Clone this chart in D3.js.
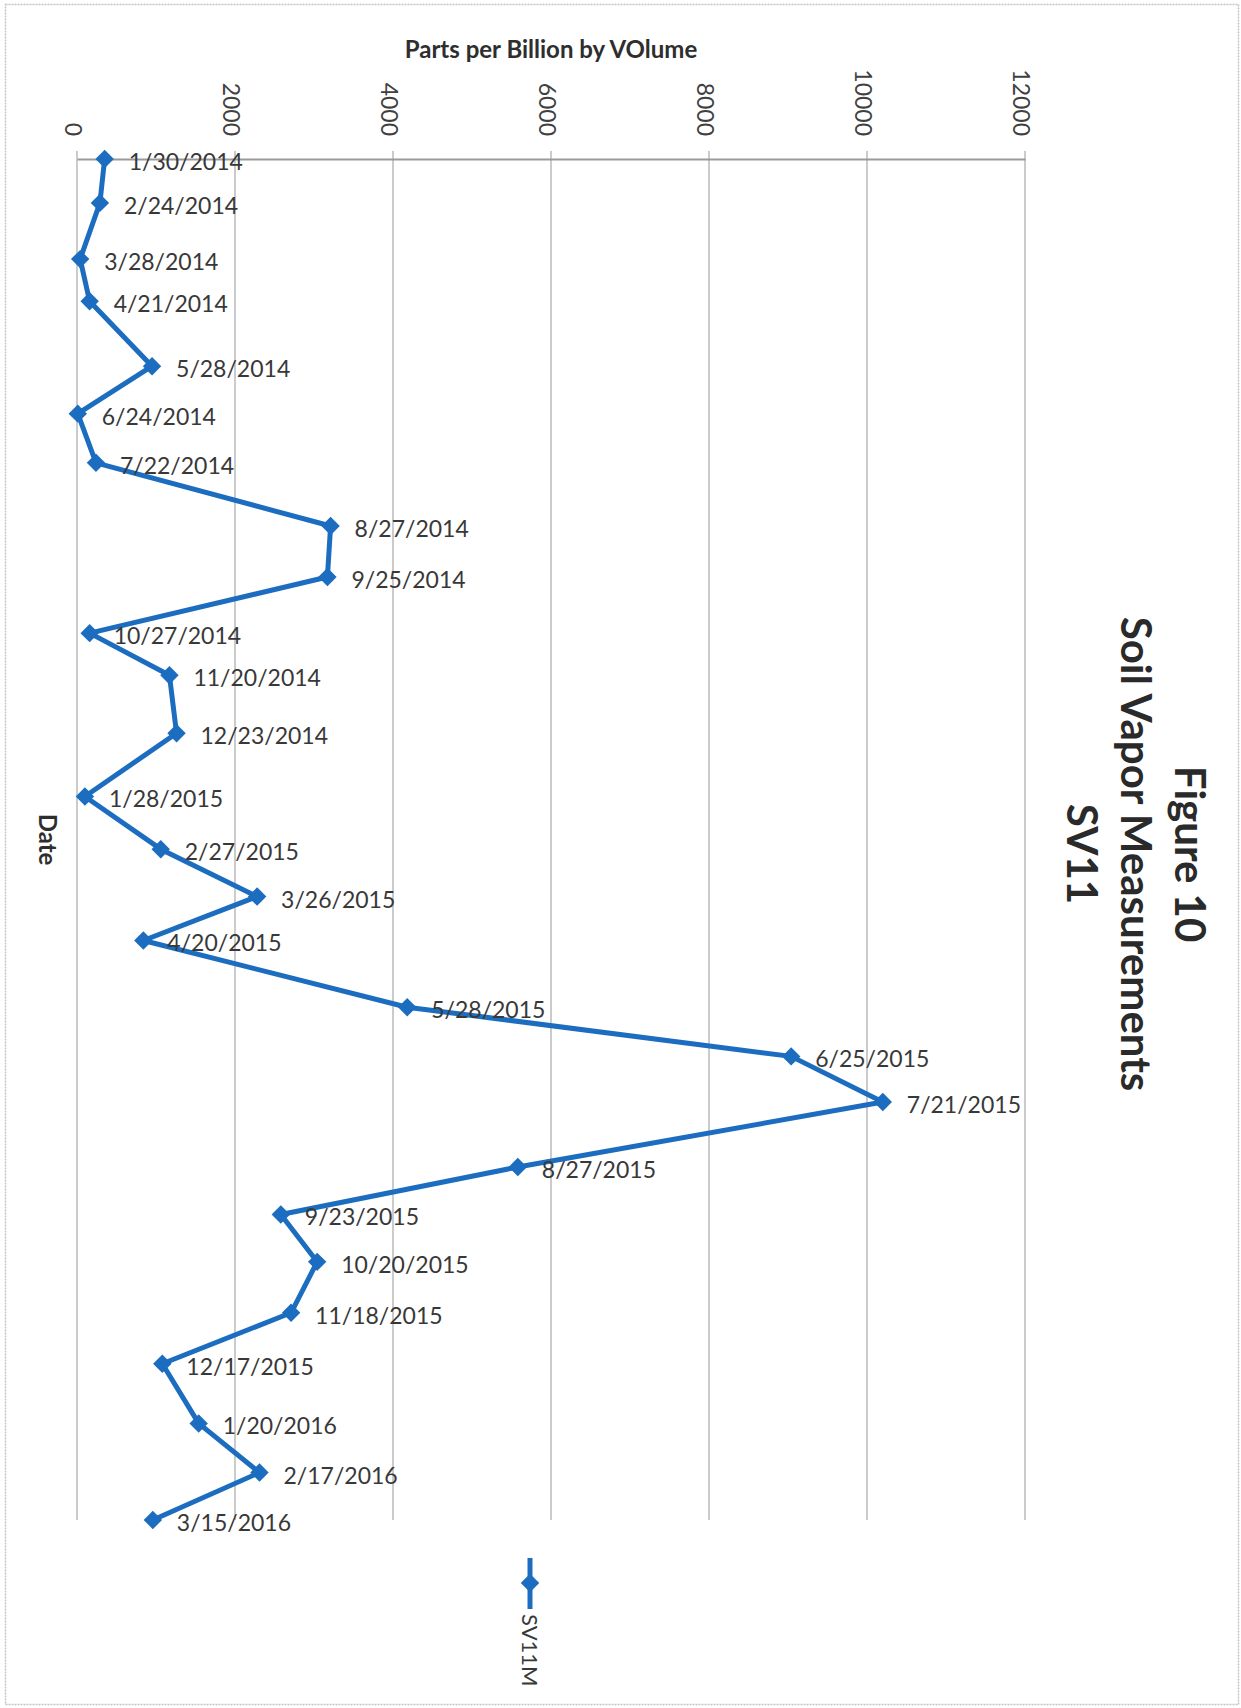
<!DOCTYPE html>
<html>
<head>
<meta charset="utf-8">
<script src="https://cdn.jsdelivr.net/npm/d3@7"></script>
<style>
  html, body { margin: 0; padding: 0; background: #fff; }
  svg { display: block; }
</style>
</head>
<body>
<svg id="chart" width="1241" height="1708"></svg>
<script>
// ---- data ----
const dates = ["1/30/2014","2/24/2014","3/28/2014","4/21/2014","5/28/2014","6/24/2014","7/22/2014","8/27/2014","9/25/2014","10/27/2014","11/20/2014","12/23/2014","1/28/2015","2/27/2015","3/26/2015","4/20/2015","5/28/2015","6/25/2015","7/21/2015","8/27/2015","9/23/2015","10/20/2015","11/18/2015","12/17/2015","1/20/2016","2/17/2016","3/15/2016"];
const sv11m = [350, 290, 40, 160, 950, 10, 240, 3210, 3170, 160, 1170, 1260, 100, 1060, 2280, 840, 4180, 9040, 10200, 5580, 2580, 3040, 2710, 1080, 1540, 2310, 960];
const valueTicks = [0, 2000, 4000, 6000, 8000, 10000, 12000];
const titleLines = ["Figure 10", "Soil Vapor Measurements", "SV11"];
const valueAxisTitle = "Parts per Billion by VOlume";
const dateAxisTitle = "Date";
const seriesName = "SV11M";

// ---- setup ----
const svg = d3.select("#chart");
const parse = d3.timeParse("%m/%d/%Y");
const data = dates.map((d, i) => ({ label: d, date: parse(d), value: sv11m[i] }));

const plot = { left: 77, right: 1025, top: 159, bottom: 1520 };
const x = d3.scaleLinear().domain([0, 12000]).range([plot.left, plot.right]);
const y = d3.scaleTime().domain([data[0].date, data[data.length - 1].date]).range([plot.top, plot.bottom]);

const blue = "#1c6dc0";
const textCol = "#383838";
const font = "Lato, 'Open Sans', sans-serif";

// outer border
svg.append("rect")
  .attr("x", 5.5).attr("y", 4.5).attr("width", 1233).attr("height", 1700)
  .attr("fill", "none").attr("stroke", "#c4c4c4").attr("stroke-width", 1.5)
  .attr("stroke-dasharray", "2,1");

// gridlines
svg.append("g").selectAll("line").data(valueTicks).join("line")
  .attr("x1", d => x(d)).attr("x2", d => x(d))
  .attr("y1", plot.top - 8).attr("y2", plot.bottom)
  .attr("stroke", "#a8a8a8").attr("stroke-width", 1.2);

// top axis line (value axis)
const axis = d3.axisTop(x).tickValues(valueTicks).tickSize(0).tickFormat(d3.format("d"));
const ag = svg.append("g").attr("transform", `translate(0,${plot.top})`).call(axis);
ag.select(".domain").attr("stroke", "#9a9a9a").attr("stroke-width", 2);
ag.selectAll(".tick text")
  .attr("fill", "#404040")
  .style("font-family", font)
  .style("font-size", "23px")
  .attr("text-anchor", "end")
  .attr("dominant-baseline", "central")
  .attr("y", 0)
  .attr("transform", "translate(-4,-23) rotate(90)");

// line
svg.append("path").datum(data)
  .attr("fill", "none").attr("stroke", blue).attr("stroke-width", 5)
  .attr("stroke-linejoin", "round")
  .attr("d", d3.line().x(d => x(d.value)).y(d => y(d.date)));

// markers (diamonds)
const diamond = d3.symbol().type(d3.symbolSquare).size(170);
svg.append("g").selectAll("path").data(data).join("path")
  .attr("d", diamond)
  .attr("fill", blue)
  .attr("transform", d => `translate(${x(d.value)},${y(d.date)}) rotate(45)`);

// data labels
svg.append("g").selectAll("text").data(data).join("text")
  .attr("x", d => x(d.value) + 24)
  .attr("y", d => y(d.date) + 2)
  .attr("dominant-baseline", "central")
  .attr("fill", textCol)
  .style("font-family", font)
  .style("font-size", "23px")
  .text(d => d.label);

// value axis title
svg.append("text")
  .attr("x", (plot.left + plot.right) / 2).attr("y", 58)
  .attr("text-anchor", "middle")
  .attr("fill", "#2e2e2e")
  .style("font-family", font).style("font-weight", "bold").style("font-size", "24px")
  .text(valueAxisTitle);

// date axis title
svg.append("text")
  .attr("transform", `translate(48,${(plot.top + plot.bottom) / 2}) rotate(90)`)
  .attr("text-anchor", "middle").attr("dominant-baseline", "central")
  .attr("fill", "#2e2e2e")
  .style("font-family", font).style("font-weight", "bold").style("font-size", "24px")
  .text(dateAxisTitle);

// chart title (rotated)
const titleX = [1175, 1121, 1067];
svg.append("g").selectAll("text").data(titleLines).join("text")
  .attr("transform", (d, i) => `translate(${titleX[i]},854) rotate(90)`)
  .attr("text-anchor", "middle")
  .attr("fill", "#2a2a2a")
  .style("font-family", font).style("font-weight", "bold").style("font-size", "42px")
  .text(d => d);

// legend
const lg = svg.append("g").attr("transform", "translate(530,0)");
lg.append("line").attr("x1", 0).attr("x2", 0).attr("y1", 1558).attr("y2", 1609)
  .attr("stroke", blue).attr("stroke-width", 5);
lg.append("path").attr("d", diamond).attr("fill", blue)
  .attr("transform", "translate(0,1583) rotate(45)");
lg.append("text")
  .attr("transform", "translate(0,1614) rotate(90)")
  .attr("dominant-baseline", "central")
  .attr("fill", textCol)
  .style("font-family", font).style("font-size", "22px")
  .text(seriesName);
</script>
</body>
</html>
